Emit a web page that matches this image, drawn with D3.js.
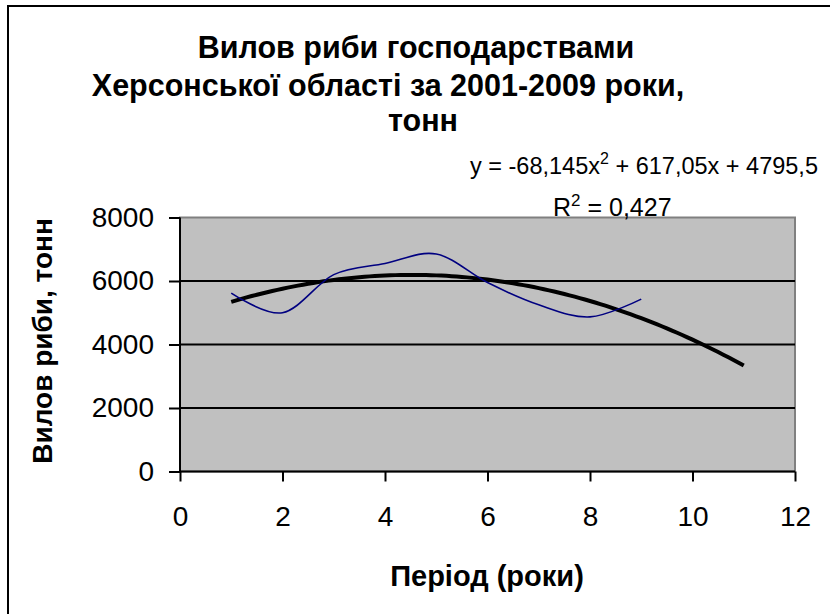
<!DOCTYPE html>
<html lang="uk">
<head>
<meta charset="UTF-8">
<title>Вилов риби</title>
<script src="https://d3js.org/d3.v7.min.js"></script>
<style>
    body { margin: 0; background: #fff; }
    svg { display: block; font-family: "Liberation Sans", Arial, sans-serif; }
</style>
</head>
<body>
<svg width="830" height="614"></svg>
<script>
    // data
    var years = [1, 2, 3, 4, 5, 6, 7, 8, 9];
    var catch_t = [5620, 5000, 6200, 6550, 6850, 5950, 5250, 4870, 5430];
    // polynomial trend (from the label), drawn for periods 1..11
    var trendCoef = [-68.145, 617.05, 4795.5];
    var trendRange = [1, 11];
    var xTicks = [0, 2, 4, 6, 8, 10, 12];
    var yTicks = [0, 2000, 4000, 6000, 8000];
    var titleLines = ["Вилов риби господарствами", "Херсонської області за 2001-2009 роки,", "тонн"];

    var svg = d3.select("svg");

    // outer chart frame (runs past the right and bottom edges)
    svg.append("rect")
        .attr("x", 8).attr("y", 6)
        .attr("width", 900).attr("height", 700)
        .attr("fill", "#fff").attr("stroke", "#000").attr("stroke-width", 2);

    var x = d3.scaleLinear().domain([0, 12]).range([180, 795]);
    var y = d3.scaleLinear().domain([0, 8000]).range([471.5, 217.5]);

    // plot area
    svg.append("rect")
        .attr("x", x(0)).attr("y", y(8000))
        .attr("width", x(12) - x(0)).attr("height", y(0) - y(8000))
        .attr("fill", "#c0c0c0").attr("stroke", "#808080").attr("stroke-width", 2);

    // gridlines
    svg.selectAll("line.grid")
        .data(yTicks.filter(function(d) { return d > 0 && d < 8000; }))
        .enter().append("line")
        .attr("class", "grid")
        .attr("x1", x(0)).attr("x2", x(12))
        .attr("y1", function(d) { return y(d); })
        .attr("y2", function(d) { return y(d); })
        .attr("stroke", "#000").attr("stroke-width", 1.8);

    // axes
    var yAxis = d3.axisLeft(y).tickValues(yTicks).tickSize(11).tickPadding(15).tickFormat(d3.format("d"));
    var xAxis = d3.axisBottom(x).tickValues(xTicks).tickSize(10).tickFormat(d3.format("d"));

    var gy = svg.append("g").attr("transform", "translate(" + x(0) + ",0)").call(yAxis);
    var gx = svg.append("g").attr("transform", "translate(0," + y(0) + ")").call(xAxis);

    [gx, gy].forEach(function(g) {
        g.select(".domain").attr("stroke", "#000").attr("stroke-width", 2);
        g.selectAll(".tick line").attr("stroke", "#000").attr("stroke-width", 2);
        g.selectAll(".tick text")
            .attr("fill", "#000")
            .style("font-family", "'Liberation Sans', Arial, sans-serif")
            .style("font-size", "28px");
    });
    gx.select(".domain").attr("d", "M" + x(0) + ",0H" + x(12));
    gy.select(".domain").attr("d", "M0," + y(0) + "V" + y(8000));
    gx.selectAll(".tick text").attr("dy", "0.71em").attr("y", 35);

    // trendline
    var trendPts = d3.range(trendRange[0], trendRange[1] + 0.001, 0.1).map(function(t) {
        return [t, trendCoef[0] * t * t + trendCoef[1] * t + trendCoef[2]];
    });
    svg.append("path")
        .datum(trendPts)
        .attr("fill", "none")
        .attr("stroke", "#000")
        .attr("stroke-width", 4)
        .attr("stroke-linejoin", "round")
        .attr("d", d3.line()
            .x(function(d) { return x(d[0]); })
            .y(function(d) { return y(d[1]); }));

    // smoothed data line
    svg.append("path")
        .datum(years.map(function(d, i) { return [d, catch_t[i]]; }))
        .attr("fill", "none")
        .attr("stroke", "#000080")
        .attr("stroke-width", 1.6)
        .attr("d", d3.line()
            .curve(d3.curveCardinal.tension(0))
            .x(function(d) { return x(d[0]); })
            .y(function(d) { return y(d[1]); }));

    // title
    var titleX = [416, 388, 423];
    var titleY = [58, 96, 131];
    svg.selectAll("text.title")
        .data(titleLines)
        .enter().append("text")
        .attr("class", "title")
        .attr("x", function(d, i) { return titleX[i]; })
        .attr("y", function(d, i) { return titleY[i]; })
        .attr("text-anchor", "middle")
        .style("font-size", "30.5px")
        .style("font-weight", "bold")
        .text(function(d) { return d; });

    // trend equation
    var eq = svg.append("text").attr("x", 470).attr("y", 174).style("font-size", "23.5px");
    eq.append("tspan").text("y = -68,145x");
    eq.append("tspan").attr("dy", -10).style("font-size", "16px").text("2");
    eq.append("tspan").attr("dy", 10).text(" + 617,05x + 4795,5");

    var r2 = svg.append("text").attr("x", 553).attr("y", 216).style("font-size", "25px");
    r2.append("tspan").text("R");
    r2.append("tspan").attr("dy", -10).style("font-size", "17px").text("2");
    r2.append("tspan").attr("dy", 10).text(" = 0,427");

    // axis titles
    svg.append("text")
        .attr("transform", "translate(52,341) rotate(-90)")
        .attr("text-anchor", "middle")
        .style("font-size", "28px")
        .style("font-weight", "bold")
        .text("Вилов риби, тонн");

    svg.append("text")
        .attr("x", 487).attr("y", 586)
        .attr("text-anchor", "middle")
        .style("font-size", "29px")
        .style("font-weight", "bold")
        .text("Період (роки)");
</script>
</body>
</html>
